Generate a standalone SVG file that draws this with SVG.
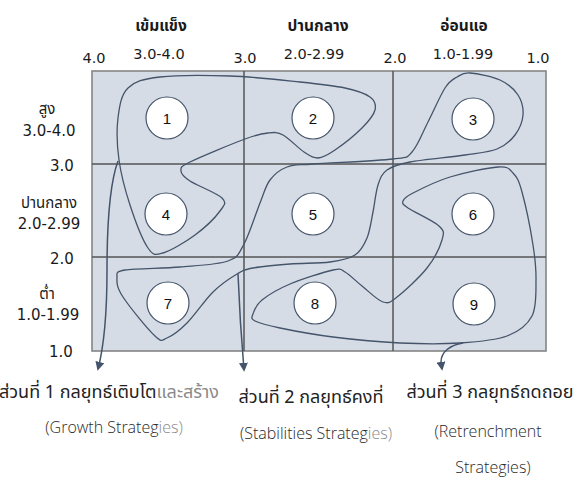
<svg xmlns="http://www.w3.org/2000/svg" width="581" height="482" viewBox="0 0 581 482">
  <defs>
    <marker id="arrowhead" viewBox="0 0 10 10" refX="8" refY="5" markerWidth="9" markerHeight="9" markerUnits="userSpaceOnUse" orient="auto">
      <path d="M0,0 L10,5 L0,10 Z" fill="#44546A"/>
    </marker>
    <style>
      .grid-bg { fill: #D6DCE5; stroke: #858585; stroke-width: 1.6; }
      .divider { stroke: #555; stroke-width: 1.5; fill: none; }
      .zone { fill: none; stroke: #44546A; stroke-width: 1.3; }
      .lead { fill: none; stroke: #44546A; stroke-width: 1.5; marker-end: url(#arrowhead); }
      .cell circle { fill: #fff; stroke: #44546A; stroke-width: 1.2; }
      .cell text { font-family: "Liberation Sans", Arial, sans-serif; font-size: 15px; fill: #111; text-anchor: middle; }
      .axis { font-family: "DejaVu Sans", "Noto Sans Thai", sans-serif; font-size: 14.5px; fill: #1a1a1a; text-anchor: middle; }
      .row { font-size: 15px; }
      .head { font-family: "DejaVu Sans", "Noto Sans Thai", sans-serif; font-size: 15.5px; font-weight: bold; fill: #1a1a1a; text-anchor: middle; }
      .thai { font-family: "Noto Sans Thai", "Noto Sans", sans-serif; font-size: 18px; fill: #222; text-anchor: middle; }
      .eng { font-family: "Open Sans", "Noto Sans", sans-serif; font-size: 16px; font-weight: 300; fill: #2a2a2a; text-anchor: middle; }
      .faded { fill: #8a8a8a; }
    </style>
  </defs>

  <!-- matrix background and grid -->
  <g id="matrix">
    <rect class="grid-bg" x="92" y="71" width="454" height="280"/>
    <line class="divider" x1="244" y1="71" x2="244" y2="351"/>
    <line class="divider" x1="393" y1="71" x2="393" y2="351"/>
    <line class="divider" x1="92" y1="164" x2="546" y2="164"/>
    <line class="divider" x1="92" y1="257" x2="546" y2="257"/>
  </g>

  <!-- column headings -->
  <g id="column-labels">
    <text class="head" x="161" y="31">เข้มแข็ง</text>
    <text class="head" x="318" y="31">ปานกลาง</text>
    <text class="head" x="464" y="31">อ่อนแอ</text>
    <text class="axis" x="94" y="63">4.0</text>
    <text class="axis" x="159" y="59">3.0-4.0</text>
    <text class="axis" x="245" y="63">3.0</text>
    <text class="axis" x="314" y="59">2.0-2.99</text>
    <text class="axis" x="395" y="63">2.0</text>
    <text class="axis" x="463" y="59">1.0-1.99</text>
    <text class="axis" x="538" y="63">1.0</text>
  </g>

  <!-- row headings -->
  <g id="row-labels">
    <text class="axis row" x="47" y="114">สูง</text>
    <text class="axis row" x="49" y="136">3.0-4.0</text>
    <text class="axis row" x="62" y="171">3.0</text>
    <text class="axis row" x="49" y="208">ปานกลาง</text>
    <text class="axis row" x="49" y="229">2.0-2.99</text>
    <text class="axis row" x="62" y="264">2.0</text>
    <text class="axis row" x="47" y="299">ต่ำ</text>
    <text class="axis row" x="48" y="320">1.0-1.99</text>
    <text class="axis row" x="61" y="357">1.0</text>
  </g>

  <!-- strategy zones and their leader arrows -->
  <g id="connectors">
    <path id="zone-growth" class="zone" d="M119,160 C117,145.5 116.5,130 118,118 S121,94.8 128,88 S143,79 160,77 S206.7,75.2 230,76 S280.8,80 300,82 S333.3,85.5 345,88 S365,93.3 370,97 S376.3,104.8 375,110 S368.7,121.3 362,128 S342.3,145 335,150 S323.2,157.7 318,158 S309.8,155.8 304,152 S289,138.2 283,135 S274.3,132.3 268,133 S258,134.2 245,139 S200.7,156.7 190,162 S181,167.8 181,171 S183.2,176.5 190,181 S217,193 222,198 S224.5,204.8 220,211 S204.5,228 195,235 S170.8,250.8 163,253 S153.5,256 148,248 S134.8,219.7 130,205 S121,174.5 119,160 Z"/>
    <path id="zone-stability" class="zone" d="M470,73 C477.2,73.5 492,76.3 500,80 S514.2,89.2 518,95 S523.5,108.3 523,115 S519.3,129.3 515,135 S505.3,145.7 497,149 S479.5,152.8 465,155 S423,159.5 410,162 S392.3,166.2 387,170 S380.3,178 378,185 S374.8,203.2 373,212 S370,230.8 367,238 S361.2,251 355,255 S340.8,260.5 330,262 S302.8,263 290,264 S261.8,266.3 253,268 S243.7,270 237,274 S221.3,283.8 213,292 S194.7,315.3 187,323 S172.3,335.8 167,338 S162.3,342.8 155,336 S129.3,306.7 123,297 S116.7,282.5 117,278 S114.5,271.8 125,270 S162.8,268.5 180,267 S217.3,264.8 228,261 S238.7,253.7 244,244 S255.7,213.7 260,203 S265.5,186 270,180 S279.8,169.7 287,167 S295.3,165.3 313,164 S376.5,161 393,159 S406.2,158.2 412,152 S422.5,132.7 428,122 S440.2,95.5 445,88 S452.8,79.5 457,77 S462.8,72.5 470,73 Z"/>
    <path id="zone-retrenchment" class="zone" d="M253,314 C254.2,310.5 255.8,305 262,300 S278.2,289 290,284 S323.8,272 333,270 S340.2,269.3 345,272 S355.7,281 362,286 S377.2,300.2 383,302 S389.7,302.7 397,297 S419.5,277.5 427,268 S440,247 442,240 S444.7,231.3 439,226 S414,212.2 408,208 S402.2,203.5 403,201 S405.2,197 413,193 S435.8,181.3 450,177 S487.5,167.7 498,167 S509,168.8 513,173 S518.7,180 522,192 S530.7,230.3 533,245 S536.2,268.2 536,280 S536.8,306.7 532,316 S519,331.5 507,336 S477.8,341.8 460,343 S421.2,344 400,343 S353,339.5 333,337 S293,330.7 280,328 S259.5,323.3 255,321 S251.8,317.5 253,314 Z"/>
    <path id="lead-growth" class="lead" d="M118,161 C111,180 107,220 107,270 C107,320 103,350 98,369"/>
    <path id="lead-stability" class="lead" d="M238,274 C239,300 241,335 244,370"/>
    <path id="lead-retrenchment" class="lead" d="M463,343 C450,345 441,352 441,362 L442,369"/>
  </g>

  <!-- matrix cells -->
  <g id="cell-1" class="cell"><circle cx="167" cy="118" r="21"/><text x="167" y="123.5">1</text></g>
  <g id="cell-2" class="cell"><circle cx="313" cy="118" r="21"/><text x="313" y="123.5">2</text></g>
  <g id="cell-3" class="cell"><circle cx="473" cy="119" r="21"/><text x="473" y="124.5">3</text></g>
  <g id="cell-4" class="cell"><circle cx="166" cy="214" r="21"/><text x="166" y="219.5">4</text></g>
  <g id="cell-5" class="cell"><circle cx="313" cy="214" r="21"/><text x="313" y="219.5">5</text></g>
  <g id="cell-6" class="cell"><circle cx="473" cy="214" r="21"/><text x="473" y="219.5">6</text></g>
  <g id="cell-7" class="cell"><circle cx="168" cy="303" r="21"/><text x="168" y="308.5">7</text></g>
  <g id="cell-8" class="cell"><circle cx="315" cy="303" r="21"/><text x="315" y="308.5">8</text></g>
  <g id="cell-9" class="cell"><circle cx="474" cy="304" r="21"/><text x="474" y="309.5">9</text></g>

  <!-- strategy captions -->
  <g id="caption-growth">
    <text class="thai" x="109" y="398">ส่วนที่ 1 กลยุทธ์เติบโต<tspan class="faded">และสร้าง</tspan></text>
    <text class="eng" x="114" y="433">(Growth Strateg<tspan class="faded">ies)</tspan></text>
  </g>
  <g id="caption-stability">
    <text class="thai" x="311" y="403">ส่วนที่ 2 กลยุทธ์คงที่</text>
    <text class="eng" x="316" y="439">(Stabilities Strateg<tspan class="faded">ies)</tspan></text>
  </g>
  <g id="caption-retrenchment">
    <text class="thai" x="490" y="398">ส่วนที่ 3 กลยุทธ์ถดถอย</text>
    <text class="eng" x="488" y="437">(Retrenchment</text>
    <text class="eng" x="493" y="473">Strategies)</text>
  </g>
</svg>
